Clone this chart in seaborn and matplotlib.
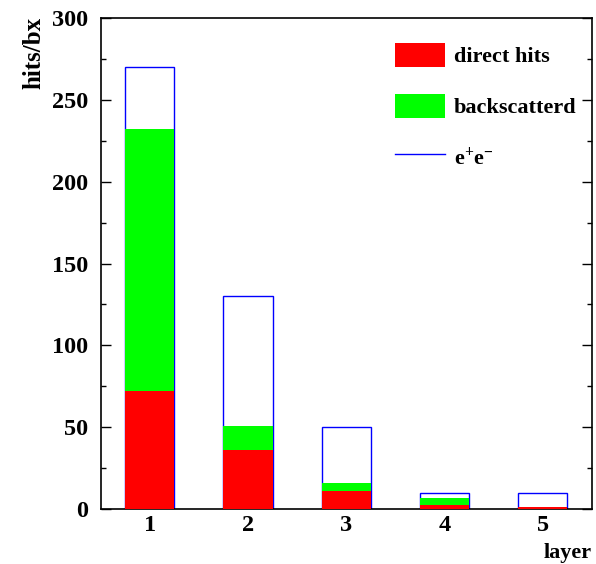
import matplotlib
matplotlib.use("Agg")
import matplotlib.pyplot as plt
import seaborn as sns
from matplotlib.patches import Patch
from matplotlib.lines import Line2D
from matplotlib.ticker import MultipleLocator

layers = [1, 2, 3, 4, 5]
direct_hits = [72, 36, 11, 2.5, 1.5]
backscattered = [160, 15, 5, 4.5, 0]
ee_pairs = [270, 130, 50, 10, 10]
yticks = [0, 50, 100, 150, 200, 250, 300]

plt.rcParams["font.family"] = ["Liberation Serif", "DejaVu Serif"]
plt.rcParams["font.weight"] = "bold"
plt.rcParams["mathtext.fontset"] = "custom"
plt.rcParams["mathtext.rm"] = "Liberation Serif:bold"
plt.rcParams["mathtext.it"] = "Liberation Serif:bold"
plt.rcParams["mathtext.bf"] = "Liberation Serif:bold"

fig = plt.figure(figsize=(5.96, 5.64), dpi=100)
ax = fig.add_axes([100.7 / 596, 1 - 509 / 564, 491 / 596, 491 / 564])

stacked = [d + b for d, b in zip(direct_hits, backscattered)]

sns.barplot(x=layers, y=ee_pairs, native_scale=True, width=0.5, fill=False,
            color="#0000ff", linewidth=1.0, errorbar=None, ax=ax, zorder=1)
sns.barplot(x=layers, y=stacked, native_scale=True, width=0.5,
            color="#00ff00", saturation=1, linewidth=0, errorbar=None, ax=ax, zorder=2)
sns.barplot(x=layers, y=direct_hits, native_scale=True, width=0.5,
            color="#ff0000", saturation=1, linewidth=0, errorbar=None, ax=ax, zorder=3)

ax.set_xlim(0.5, 5.5)
ax.set_ylim(0, 300)
ax.set_xticks(layers)
ax.set_xticklabels([str(l) for l in layers])
ax.set_yticks(yticks)
ax.set_yticklabels([str(v) for v in yticks])
ax.yaxis.set_minor_locator(MultipleLocator(25))
ax.set_xlabel("")
ax.set_ylabel("")

ax.tick_params(axis="x", which="both", length=0, pad=4, labelsize=17.5)
ax.tick_params(axis="y", which="major", direction="in", length=7, width=1,
               left=True, right=True, pad=9, labelsize=17.5)
ax.tick_params(axis="y", which="minor", direction="in", length=3.7, width=1,
               left=True, right=True)
for lab in ax.get_xticklabels() + ax.get_yticklabels():
    lab.set_fontweight("bold")
for sp in ax.spines.values():
    sp.set_linewidth(1.2)
    sp.set_visible(True)

handles = [Patch(facecolor="#ff0000", edgecolor="none"),
           Patch(facecolor="#00ff00", edgecolor="none"),
           Line2D([], [], color="#0000ff", lw=1.0)]
labels = ["direct hits", "backscatterd", "e$^{+}$e$^{-}$"]
leg = ax.legend(handles, labels, loc="upper left",
                bbox_to_anchor=((395 - 100.7) / 491, (509 - 42.5) / 491),
                frameon=False, borderpad=0, borderaxespad=0,
                handlelength=2.25, handleheight=1.3, handletextpad=0.4,
                labelspacing=1.19, prop={"size": 16, "weight": "bold"})

fig.text(591.7 / 596, (564 - 558) / 564, "layer", ha="right", va="baseline",
         fontsize=16, fontweight="bold")
fig.text(34 / 596, 1 - 17 / 564, "hits/bx", rotation=90, ha="center", va="top",
         fontsize=18, fontweight="bold")

fig.savefig("out.png", dpi=100)
